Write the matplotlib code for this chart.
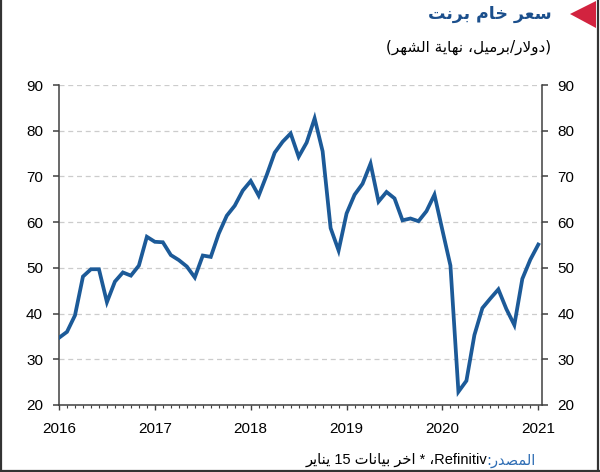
import re
import matplotlib
matplotlib.use("Agg")
import matplotlib.pyplot as plt
from matplotlib.patches import Polygon
from matplotlib.lines import Line2D
from matplotlib.ticker import MultipleLocator, FixedLocator

# ---------------- data ----------------
years = ["2016", "2017", "2018", "2019", "2020", "2021"]
brent_2016 = [34.7, 36.0, 39.6, 48.1, 49.7, 49.7, 42.5, 47.0, 49.0, 48.3, 50.5, 56.8]
brent_2017 = [55.7, 55.6, 52.8, 51.7, 50.3, 47.9, 52.7, 52.4, 57.5, 61.4, 63.6, 66.9]
brent_2018 = [69.0, 65.8, 70.3, 75.2, 77.6, 79.4, 74.3, 77.4, 82.7, 75.5, 58.7, 53.8]
brent_2019 = [61.9, 66.0, 68.4, 72.8, 64.5, 66.6, 65.2, 60.4, 60.8, 60.2, 62.4, 66.0]
brent_2020 = [58.2, 50.5, 22.9, 25.3, 35.3, 41.2, 43.3, 45.3, 41.0, 37.5, 47.6, 51.8]
brent_2021 = [55.1]
y_ticks = [20, 30, 40, 50, 60, 70, 80, 90]

title_text = "سعر خام برنت"
subtitle_text = "(دولار/برميل، نهاية الشهر)"
source_label = "المصدر:"
source_text = "Refinitiv، * اخر بيانات 15 يناير"

values = brent_2016 + brent_2017 + brent_2018 + brent_2019 + brent_2020 + brent_2021
months = list(range(len(values)))

# ------------- minimal Arabic shaping (presentation forms) -------------
FORMS = {
    '\u0627': ('\uFE8D', '\uFE8E', None, None),
    '\u0628': ('\uFE8F', '\uFE90', '\uFE91', '\uFE92'),
    '\u0629': ('\uFE93', '\uFE94', None, None),
    '\u062A': ('\uFE95', '\uFE96', '\uFE97', '\uFE98'),
    '\u062E': ('\uFEA5', '\uFEA6', '\uFEA7', '\uFEA8'),
    '\u062F': ('\uFEA9', '\uFEAA', None, None),
    '\u0631': ('\uFEAD', '\uFEAE', None, None),
    '\u0633': ('\uFEB1', '\uFEB2', '\uFEB3', '\uFEB4'),
    '\u0634': ('\uFEB5', '\uFEB6', '\uFEB7', '\uFEB8'),
    '\u0635': ('\uFEB9', '\uFEBA', '\uFEBB', '\uFEBC'),
    '\u0639': ('\uFEC9', '\uFECA', '\uFECB', '\uFECC'),
    '\u0644': ('\uFEDD', '\uFEDE', '\uFEDF', '\uFEE0'),
    '\u0645': ('\uFEE1', '\uFEE2', '\uFEE3', '\uFEE4'),
    '\u0646': ('\uFEE5', '\uFEE6', '\uFEE7', '\uFEE8'),
    '\u0647': ('\uFEE9', '\uFEEA', '\uFEEB', '\uFEEC'),
    '\u0648': ('\uFEED', '\uFEEE', None, None),
    '\u064A': ('\uFEF1', '\uFEF2', '\uFEF3', '\uFEF4'),
}


def _dual(c):
    return c in FORMS and FORMS[c][2] is not None


def shape(s):
    ch = list(s)
    n = len(ch)
    res = []
    i = 0
    while i < n:
        c = ch[i]
        if c not in FORMS:
            res.append(c)
            i += 1
            continue
        prev = ch[i - 1] if i > 0 else ''
        cp = _dual(prev)
        if c == '\u0644' and i + 1 < n and ch[i + 1] == '\u0627':
            res.append('\uFEFC' if cp else '\uFEFB')
            i += 2
            continue
        nxt = ch[i + 1] if i + 1 < n else ''
        cn = _dual(c) and nxt in FORMS
        iso, fin, ini, med = FORMS[c]
        if cp and cn:
            res.append(med)
        elif cp:
            res.append(fin)
        elif cn:
            res.append(ini)
        else:
            res.append(iso)
        i += 1
    return ''.join(res)


def visual(s):
    v = shape(s)[::-1]
    v = re.sub(r'[A-Za-z0-9]+', lambda m: m.group(0)[::-1], v)
    return v.translate(str.maketrans('()', ')('))


# ---------------- figure ----------------
plt.rcParams['font.family'] = ['Liberation Sans', 'DejaVu Sans']
W, H = 600, 472
fig = plt.figure(figsize=(W / 100, H / 100), dpi=100)
ax = fig.add_axes([59 / W, 1 - 405 / H, (541.5 - 59) / W, (405 - 85) / H])

line_col = '#1C5A98'
ax.plot(months, values, color=line_col, lw=2.7, solid_joinstyle='miter', zorder=3)

ax.set_ylim(20, 90)
ax.set_xlim(0, 60.4)
ax.set_yticks(y_ticks)
ax.yaxis.grid(True, linestyle=(0, (4, 3)), color='#CCCCCC', lw=0.9)
ax.set_axisbelow(True)

ax.xaxis.set_major_locator(FixedLocator([12 * i for i in range(len(years))]))
ax.set_xticklabels(years)
ax.xaxis.set_minor_locator(MultipleLocator(1))

ax.spines['top'].set_visible(False)
for s in ['left', 'right', 'bottom']:
    ax.spines[s].set_color('#404040')
    ax.spines[s].set_linewidth(1.1)

ax.tick_params(axis='y', which='both', left=True, right=True, labelleft=True, labelright=True,
               direction='out', length=4.5, width=1.1, color='#404040', labelsize=11, pad=7)
ax.tick_params(axis='x', which='major', direction='out', length=3.5, width=1.0, color='#404040',
               labelsize=11, pad=9)
ax.tick_params(axis='x', which='minor', direction='out', length=2.5, width=0.8, color='#404040')

# title & subtitle
title_col = '#1B4F8C'
fig.text(552 / W, 1 - 14 / H, visual(title_text), ha='right', va='center', fontsize=12.5,
         fontweight='bold', color=title_col, family=['DejaVu Sans'])
fig.text(551 / W, 1 - 47 / H, visual(subtitle_text), ha='right', va='center', fontsize=11,
         color='black', family=['DejaVu Sans'])

# red triangle
tri = Polygon([(570 / W, 1 - 14 / H), (596 / W, 1 - 1 / H), (596 / W, 1 - 28 / H)],
              closed=True, transform=fig.transFigure, facecolor='#D2233F', edgecolor='none')
fig.add_artist(tri)

# source
src_y = 1 - 460 / H
t1 = fig.text(535 / W, src_y, visual(source_label), ha='right', va='center', fontsize=10.5,
              color='#2E6DB4', family=['DejaVu Sans'])
fig.canvas.draw()
bb = t1.get_window_extent(renderer=fig.canvas.get_renderer())
fig.text((bb.x0 + 2) / W, src_y, visual(source_text), ha='right', va='center', fontsize=10.5,
         color='black', family=['Liberation Sans', 'DejaVu Sans'])

# frame around the figure
frame_col = '#333333'
fig.add_artist(Line2D([1 / W, 1 / W], [0, 1], transform=fig.transFigure, color=frame_col, lw=1.6))
fig.add_artist(Line2D([597.5 / W, 597.5 / W], [0, 1], transform=fig.transFigure, color=frame_col, lw=1.6))
fig.add_artist(Line2D([0, 1], [1.5 / H, 1.5 / H], transform=fig.transFigure, color=frame_col, lw=1.6))

fig.savefig('out.png', dpi=100)
